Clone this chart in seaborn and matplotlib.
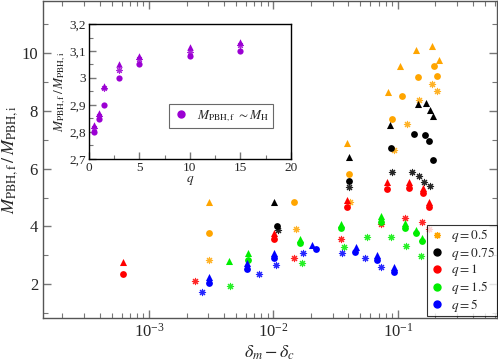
import matplotlib
matplotlib.use("Agg")
import matplotlib.pyplot as plt
from matplotlib.lines import Line2D
from matplotlib.ticker import FixedLocator, MultipleLocator, FuncFormatter
import seaborn as sns
import pandas as pd

# q = 0.5 (orange)
q05_tri_x = [3.03e-3, 3.89e-2, 8.28e-2, 0.1035, 0.141, 0.189, 0.213]
q05_tri_y = [4.86, 6.90, 8.67, 9.54, 10.09, 10.23, 9.77]
q05_circ_x = [3.03e-3, 1.47e-2, 4.08e-2, 8.98e-2, 0.108, 0.145, 0.195, 0.207]
q05_circ_y = [3.77, 4.83, 5.81, 7.71, 8.52, 9.17, 9.54, 9.19]
q05_ast_x = [3.03e-3, 1.52e-2, 4.14e-2, 9.37e-2, 0.119, 0.147, 0.189, 0.207]
q05_ast_y = [2.84, 3.90, 4.83, 6.66, 7.54, 8.38, 8.94, 8.70]

# q = 0.75 (black)
q075_tri_x = [1.01e-2, 4.08e-2, 8.65e-2, 0.146, 0.169, 0.183, 0.191]
q075_tri_y = [4.84, 6.40, 7.52, 8.23, 8.27, 8.04, 7.83]
q075_circ_x = [1.06e-2, 4.08e-2, 8.75e-2, 0.136, 0.166, 0.179, 0.191]
q075_circ_y = [4.03, 5.59, 6.71, 7.19, 7.17, 6.97, 6.30]
q075_ast_x = [1.09e-2, 4.08e-2, 8.92e-2, 0.131, 0.148, 0.164, 0.183]
q075_ast_y = [3.88, 5.38, 5.88, 5.90, 5.73, 5.54, 5.40]

# q = 1 (red)
q1_tri_x = [6.15e-4, 1.01e-2, 3.89e-2, 8.18e-2, 0.124, 0.161, 0.179]
q1_tri_y = [2.76, 3.79, 4.92, 5.55, 5.55, 5.32, 4.83]
q1_circ_x = [6.15e-4, 1.01e-2, 3.89e-2, 8.18e-2, 0.124, 0.161, 0.179]
q1_circ_y = [2.37, 3.56, 4.69, 5.30, 5.32, 5.17, 4.67]
q1_ast_x = [2.34e-3, 1.46e-2, 3.50e-2, 7.31e-2, 0.114, 0.158, 0.179]
q1_ast_y = [2.12, 2.92, 3.58, 4.08, 4.29, 4.15, 3.90]

# q = 1.5 (green)
q15_tri_x = [4.35e-3, 6.27e-3, 1.64e-2, 3.48e-2, 7.31e-2, 0.114, 0.141, 0.158]
q15_tri_y = [2.82, 3.09, 3.57, 4.08, 4.37, 4.13, 3.88, 3.59]
q15_circ_x = [6.27e-3, 1.64e-2, 3.48e-2, 7.31e-2, 0.114, 0.141, 0.158]
q15_circ_y = [2.84, 3.42, 3.94, 4.17, 3.96, 3.77, 3.48]
q15_ast_x = [4.45e-3, 1.70e-2, 3.66e-2, 5.65e-2, 8.87e-2, 0.117, 0.154]
q15_ast_y = [1.94, 2.75, 3.30, 3.63, 3.63, 3.33, 2.99]

# q = 5 (blue)
q5_tri_x = [3.03e-3, 6.08e-3, 1.01e-2, 2.03e-2, 4.63e-2, 6.84e-2, 9.3e-2]
q5_tri_y = [2.26, 2.75, 3.09, 3.36, 3.30, 3.01, 2.58]
q5_circ_x = [3.03e-3, 6.08e-3, 1.01e-2, 2.20e-2, 4.50e-2, 6.84e-2, 9.3e-2]
q5_circ_y = [2.06, 2.53, 2.90, 3.21, 3.13, 2.84, 2.44]
q5_ast_x = [2.68e-3, 7.67e-3, 1.05e-2, 1.74e-2, 3.56e-2, 5.40e-2, 7.31e-2]
q5_ast_y = [1.73, 2.35, 2.67, 3.07, 3.09, 2.92, 2.61]

# inset: M_PBH,f ~ M_H
inset_q = [0.5, 1, 1.5, 3, 5, 10, 15]
inset_tri = [2.825, 2.872, 2.970, 3.053, 3.083, 3.114, 3.132]
inset_ast = [2.815, 2.860, 2.962, 3.030, 3.070, 3.098, 3.122]
inset_circ = [2.800, 2.847, 2.900, 3.000, 3.052, 3.081, 3.100]

legend_labels = ["$q = 0.5$", "$q = 0.75$", "$q = 1$", "$q = 1.5$", "$q = 5$"]
colors = ["#ffa500", "black", "red", "#00ee00", "blue"]

sns.set_style("ticks")
plt.rcParams["font.family"] = ["Liberation Serif", "DejaVu Serif"]
plt.rcParams["mathtext.fontset"] = "stix"

groups = [
    (q05_tri_x, q05_tri_y, q05_circ_x, q05_circ_y, q05_ast_x, q05_ast_y),
    (q075_tri_x, q075_tri_y, q075_circ_x, q075_circ_y, q075_ast_x, q075_ast_y),
    (q1_tri_x, q1_tri_y, q1_circ_x, q1_circ_y, q1_ast_x, q1_ast_y),
    (q15_tri_x, q15_tri_y, q15_circ_x, q15_circ_y, q15_ast_x, q15_ast_y),
    (q5_tri_x, q5_tri_y, q5_circ_x, q5_circ_y, q5_ast_x, q5_ast_y),
]
ASTER = (8, 2, 0)

fig = plt.figure(figsize=(4.98, 3.61), dpi=100)
ax = fig.add_axes([0.0863, 0.119, 0.912, 0.878])

for (tx, ty, cx, cy, axx, ayy), col in zip(groups, colors):
    sns.scatterplot(x=tx, y=ty, ax=ax, marker="^", color=col, s=26, linewidth=0, legend=False)
    sns.scatterplot(x=cx, y=cy, ax=ax, marker="o", color=col, s=24, linewidth=0, legend=False)
    sns.scatterplot(x=axx, y=ayy, ax=ax, marker=ASTER, color=col, s=20, linewidth=0.8,
                    edgecolor=col, alpha=0.85, legend=False)

ax.set_xscale("log")
ax.set_xlim(1.4e-4, 0.63)
ax.set_ylim(0.83, 11.8)
ax.yaxis.set_major_locator(FixedLocator([2, 4, 6, 8, 10]))
ax.yaxis.set_minor_locator(MultipleLocator(1))
ax.tick_params(which="both", direction="in", top=True, right=True, color="#777777",
               labelsize=12)
ax.tick_params(which="major", length=6, width=1)
ax.tick_params(which="minor", length=3.5, width=0.8)
for sp in ax.spines.values():
    sp.set_color("#555555")
    sp.set_linewidth(1.0)
ax.set_xlabel(r"$\delta_m - \delta_c$", fontsize=13, labelpad=2)
ax.set_ylabel(r"$M_{\rm PBH,f}\,/\,M_{\rm PBH,i}$", fontsize=13, labelpad=1)

handles = [Line2D([], [], linestyle="none", marker=ASTER, color=colors[0], markersize=5,
                  markeredgewidth=0.9)]
for col in colors[1:]:
    handles.append(Line2D([], [], linestyle="none", marker="o", color=col, markersize=5))
leg = ax.legend(handles, legend_labels, loc="lower right", bbox_to_anchor=(1.0, 0.005),
                fontsize=9.5, frameon=True, fancybox=False, edgecolor="black",
                labelspacing=0.05, handletextpad=0.4, handlelength=1.2, borderpad=0.2,
                borderaxespad=0)
leg.get_frame().set_linewidth(0.8)

# inset
axi = fig.add_axes([0.1787, 0.5596, 0.4053, 0.3739])
pc = "#9b00d3"
sns.scatterplot(x=inset_q, y=inset_tri, ax=axi, marker="^", color=pc, s=22, linewidth=0, legend=False)
sns.scatterplot(x=inset_q, y=inset_ast, ax=axi, marker=ASTER, color=pc, s=18, linewidth=0.8,
                edgecolor=pc, alpha=0.85, legend=False)
sns.scatterplot(x=inset_q, y=inset_circ, ax=axi, marker="o", color=pc, s=20, linewidth=0, legend=False)
axi.set_xlim(0, 20)
axi.set_ylim(2.7, 3.2)
axi.xaxis.set_major_locator(MultipleLocator(5))
axi.xaxis.set_minor_locator(MultipleLocator(2.5))
axi.yaxis.set_major_locator(MultipleLocator(0.1))
axi.yaxis.set_minor_locator(MultipleLocator(0.05))
axi.yaxis.set_major_formatter(FuncFormatter(lambda v, p: f"{v:.1f}".rstrip("0").rstrip(".").replace(".", ",")))
axi.tick_params(which="both", direction="in", top=False, right=False, color="#777777",
                labelsize=9.5, pad=2)
axi.tick_params(which="major", length=5, width=1)
axi.tick_params(which="minor", length=3, width=0.8)
for sp in axi.spines.values():
    sp.set_color("black")
    sp.set_linewidth(1.0)
axi.set_xlabel(r"$q$", fontsize=9.5, labelpad=0)
axi.set_ylabel(r"$M_{\rm PBH,f}\,/\,M_{\rm PBH,i}$", fontsize=9.5, labelpad=1)
ileg = axi.legend([Line2D([], [], linestyle="none", marker="o", color=pc, markersize=5)],
                  [r"$M_{\rm PBH,f}\;\sim M_{\rm H}$"], loc="center",
                  bbox_to_anchor=(0.655, 0.32), fontsize=9.5, frameon=True, fancybox=False,
                  edgecolor="#444444", handletextpad=0.6, handlelength=1.2, borderpad=0.3)
ileg.get_frame().set_linewidth(0.8)

fig.savefig("out.png", dpi=100)
